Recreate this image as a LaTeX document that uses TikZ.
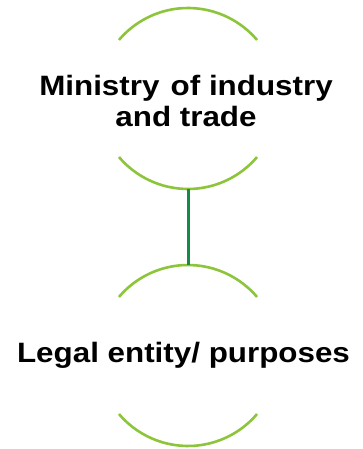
\documentclass[tikz,border=0pt]{standalone}
\usepackage{fontspec}
\setmainfont[FakeStretch=1.12]{Liberation Sans}
\usetikzlibrary{calc}
\begin{document}
\begin{tikzpicture}[x=1pt,y=1pt,
  bracket/.style={draw=arcgreen,line width=2.6pt},
  link/.style={draw=linkgreen,line width=3pt},
  label/.style={font=\bfseries\fontsize{28}{31}\selectfont,align=center,inner sep=0pt}]
\definecolor{arcgreen}{HTML}{8CC43A}
\definecolor{linkgreen}{HTML}{168A47}
\useasboundingbox (0,0) rectangle (362,449);
% upper element: circle centre (188,350.5), radius 90.5
\coordinate (c1) at (188,350.5);
\draw[bracket] ($(c1)+(40.3:90.5)$) arc (40.3:139.7:90.5);
\draw[bracket] ($(c1)+(220.3:90.5)$) arc (220.3:319.7:90.5);
\coordinate (b1) at ($(c1)+(0,-90.5)$);
\node[label] (t1) at (186,348) {Ministry\hspace{2.5pt} of industry\\and trade};
% lower element: circle centre (188,93.5)
\coordinate (c2) at (188,93.5);
\draw[bracket] ($(c2)+(40.3:90.5)$) arc (40.3:139.7:90.5);
\draw[bracket] ($(c2)+(220.3:90.5)$) arc (220.3:319.7:90.5);
\coordinate (a2) at ($(c2)+(0,90.5)$);
\node[label,anchor=base] (t2) at (183.5,86) {Legal entity/ purposes};
\draw[link] (b1) -- (a2);
\end{tikzpicture}
\end{document}
